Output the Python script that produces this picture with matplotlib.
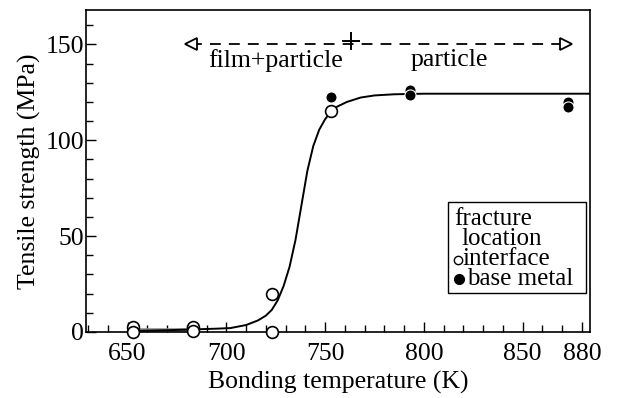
import matplotlib
matplotlib.use("Agg")
import matplotlib.pyplot as plt
from matplotlib.ticker import MultipleLocator, FixedLocator, FixedFormatter
from matplotlib.patches import Rectangle

plt.rcParams['font.family'] = ['Liberation Serif', 'DejaVu Serif']

# ---- data ----
interface_T = [653, 653, 683, 683, 723, 723, 753]
interface_S = [2.5, 0.0, 2.5, 0.3, 20.0, 0.0, 115.5]

base_T = [753, 793, 793, 873, 873]
base_S = [122.5, 126.0, 123.5, 120.0, 117.5]

curve_T = [653, 670, 683, 695, 702, 710, 716, 720, 723, 726, 729, 732, 735,
           738, 741, 744, 747, 750, 753, 756, 761, 768, 775, 785, 800, 884]
curve_S = [0.5, 0.9, 1.3, 1.7, 2.0, 3.6, 6.0, 8.5, 11.5, 16.5, 24.0, 34.0, 48.0,
           66.0, 84.0, 97.0, 105.5, 111.0, 115.0, 117.5, 120.0, 122.3, 123.4,
           124.0, 124.3, 124.3]

band_T = [653, 683]
band_S = [1.0, 1.0]

xticks = [650, 700, 750, 800, 850, 880]
xticklabels = ['650', '700', '750', '800', '850', '880']
yticks = [0, 50, 100, 150]

arrow_T = [682, 872]
arrow_S = 150
divider_T = 763
divider_S = 152

fig = plt.figure(figsize=(6.19, 3.98), dpi=100)
ax = fig.add_axes([0.139, 0.166, 0.814, 0.809])

ax.plot(band_T, band_S, color='0.55', lw=2.6, solid_capstyle='butt', zorder=2)
ax.plot(curve_T, curve_S, color='black', lw=1.4, zorder=3)

ax.plot(interface_T, interface_S, linestyle='none', marker='o', ms=8.5,
        mfc='white', mec='black', mew=1.2, clip_on=False, zorder=5)
ax.plot(base_T, base_S, linestyle='none', marker='o', ms=8.0,
        mfc='black', mec='white', mew=0.8, clip_on=False, zorder=6)

# annotation arrow (dashed, open heads)
ax.plot(arrow_T, [arrow_S, arrow_S], color='black', lw=1.3,
        dashes=(6, 4.5), zorder=3)
ax.plot([arrow_T[0]], [arrow_S], marker='<', ms=8, mfc='white', mec='black',
        mew=1.3, linestyle='none', zorder=4)
ax.plot([arrow_T[1]], [arrow_S], marker='>', ms=8, mfc='white', mec='black',
        mew=1.3, linestyle='none', zorder=4)
ax.plot([divider_T], [divider_S], marker='+', ms=13, mew=1.4, color='black',
        linestyle='none', zorder=4)
ax.text(725, 147.5, 'film+particle', ha='center', va='top', fontsize=18.5)
ax.text(813, 147.5, 'particle', ha='center', va='top', fontsize=18.5)

# legend box (manual)
ax.add_patch(Rectangle((0.718, 0.121), 0.274, 0.283, transform=ax.transAxes,
                       fill=False, edgecolor='black', lw=1.0, zorder=7))
ax.text(0.730, 0.385, 'fracture', transform=ax.transAxes, ha='left', va='top',
        fontsize=18, zorder=8)
ax.text(0.746, 0.323, 'location', transform=ax.transAxes, ha='left', va='top',
        fontsize=18, zorder=8)
ax.plot([0.738], [0.222], transform=ax.transAxes, marker='o', ms=6,
        mfc='white', mec='black', mew=1.0, clip_on=False, zorder=8)
ax.text(0.748, 0.261, 'interface', transform=ax.transAxes, ha='left', va='top',
        fontsize=18, zorder=8)
ax.plot([0.741], [0.165], transform=ax.transAxes, marker='o', ms=7,
        mfc='black', mec='black', mew=1.0, clip_on=False, zorder=8)
ax.text(0.757, 0.199, 'base metal', transform=ax.transAxes, ha='left', va='top',
        fontsize=18, zorder=8)

ax.set_xlim(629, 884)
ax.set_ylim(0, 168)
ax.xaxis.set_major_locator(FixedLocator(xticks))
ax.xaxis.set_major_formatter(FixedFormatter(xticklabels))
ax.xaxis.set_minor_locator(MultipleLocator(10))
ax.yaxis.set_major_locator(FixedLocator(yticks))
ax.yaxis.set_minor_locator(MultipleLocator(10))

ax.tick_params(which='both', direction='in', top=False, right=False,
               labelsize=18.5, width=1.0)
ax.tick_params(axis='x', which='major', length=7, pad=8)
ax.tick_params(axis='y', which='major', length=7, pad=1.5)
ax.tick_params(which='minor', length=5)
for s in ax.spines.values():
    s.set_linewidth(1.2)

ax.set_xlabel('Bonding temperature (K)', fontsize=18.5, labelpad=4)
ax.set_ylabel('Tensile strength (MPa)', fontsize=18.5, labelpad=3)

fig.savefig('out.png', dpi=100)
